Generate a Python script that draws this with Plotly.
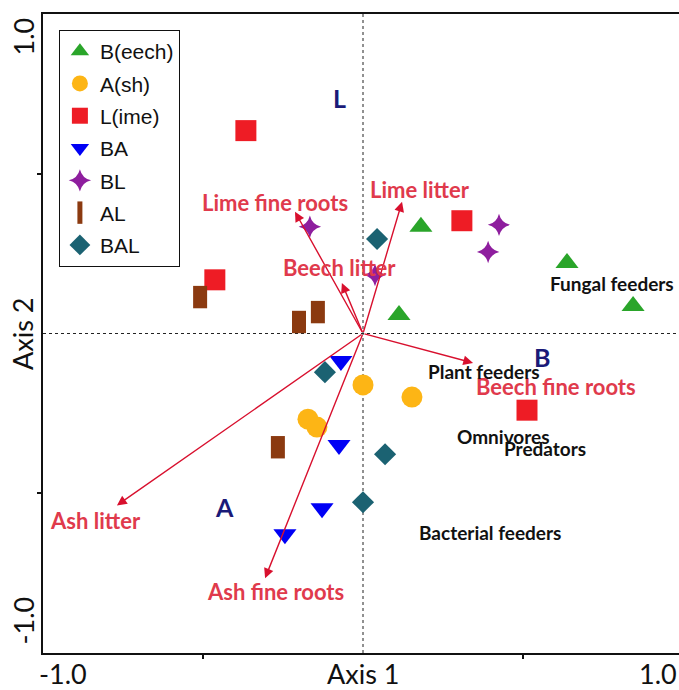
import plotly.graph_objects as go

# ---- data ----
groups = ["B(eech)", "A(sh)", "L(ime)", "BA", "BL", "AL", "BAL"]
beech_x = [0.181, 0.1125, 0.6375, 0.844]
beech_y = [0.334, 0.058, 0.221, 0.086]
ash_x = [0.0, 0.153, -0.172, -0.144]
ash_y = [-0.161, -0.199, -0.268, -0.293]
lime_x = [-0.366, 0.309, -0.463, 0.5125]
lime_y = [0.635, 0.353, 0.168, -0.240]
ba_x = [-0.069, -0.075, -0.128, -0.244]
ba_y = [-0.086, -0.349, -0.547, -0.628]
bl_x = [-0.166, 0.425, 0.391, 0.0375]
bl_y = [0.334, 0.340, 0.255, 0.183]
al_x = [-0.509, -0.200, -0.141, -0.266]
al_y = [0.114, 0.036, 0.067, -0.356]
bal_x = [0.044, -0.119, 0.0, 0.069]
bal_y = [0.296, -0.121, -0.528, -0.378]

# environmental arrows (tips)
env_names = ["Lime fine roots", "Lime litter", "Beech litter", "Beech fine roots", "Ash litter", "Ash fine roots"]
env_x = [-0.2125, 0.122, -0.066, 0.344, -0.769, -0.306]
env_y = [0.381, 0.412, 0.158, -0.092, -0.538, -0.766]
env_label_x = [-0.275, 0.178, -0.072, 0.603, -0.8375, -0.275]
env_label_y = [0.409, 0.450, 0.208, -0.165, -0.585, -0.807]

# feeding groups (supplementary labels)
feed_names = ["Plant feeders", "Omnivores", "Predators", "Bacterial feeders", "Fungal feeders"]
feed_x = [0.378, 0.4375, 0.569, 0.397, 0.778]
feed_y = [-0.118, -0.321, -0.359, -0.622, 0.155]

# centroid letters
cent_names = ["L", "B", "A"]
cent_x = [-0.072, 0.559, -0.434]
cent_y = [0.738, -0.074, -0.544]

x_range = [-1.0, 0.9875]
y_range = [-1.0, 1.0]

RED = "#e03a4c"
ARROW = "#d8102e"
NAVY = "#1a1a78"
LBL_FONT = "Lato"

fig = go.Figure()

series = [
    (groups[0], beech_x, beech_y, dict(symbol="triangle-up", size=20, color="#2aa52a")),
    (groups[1], ash_x, ash_y, dict(symbol="circle", size=21, color="#fdb515")),
    (groups[2], lime_x, lime_y, dict(symbol="square", size=21, color="#ee1c25")),
    (groups[3], ba_x, ba_y, dict(symbol="triangle-down", size=20, color="#0000f5")),
    (groups[4], bl_x, bl_y, dict(symbol="star-diamond", size=16, color="#8e1e9e")),
    (groups[5], al_x, al_y, dict(symbol="line-ns", size=16, color="#8b3a10",
                                 line=dict(width=14, color="#8b3a10"))),
    (groups[6], bal_x, bal_y, dict(symbol="diamond", size=17, color="#1b6272")),
]
for i, (name, xs, ys, mk) in enumerate(series):
    mk = dict(mk)
    if "line" not in mk:
        mk["line"] = dict(width=0)
    fig.add_trace(go.Scatter(x=xs, y=ys, mode="markers", name=name, marker=mk,
                             legendgroup=name))

annotations = []
# arrows from origin
for nx, ny in zip(env_x, env_y):
    annotations.append(dict(x=nx, y=ny, ax=0, ay=0, xref="x", yref="y", axref="x", ayref="y",
                            text="", showarrow=True, arrowhead=2, arrowsize=1.4,
                            arrowwidth=1.4, arrowcolor=ARROW, standoff=0))
for t, lx, ly in zip(env_names, env_label_x, env_label_y):
    annotations.append(dict(x=lx, y=ly, xref="x", yref="y", text="<b>%s</b>" % t, showarrow=False,
                            font=dict(family=LBL_FONT, size=22, color=RED)))
for t, lx, ly in zip(feed_names, feed_x, feed_y):
    annotations.append(dict(x=lx, y=ly, xref="x", yref="y", text="<b>%s</b>" % t, showarrow=False,
                            font=dict(family=LBL_FONT, size=19, color="#111111")))
for t, lx, ly in zip(cent_names, cent_x, cent_y):
    annotations.append(dict(x=lx, y=ly, xref="x", yref="y", text="<b>%s</b>" % t, showarrow=False,
                            font=dict(family=LBL_FONT, size=25, color=NAVY)))

# axis end labels and titles (CANOCO style)
AX_FONT = dict(family=LBL_FONT, size=27, color="#111111")
annotations += [
    dict(x=-1.0, y=0, xref="x", yref="paper", text="-1.0", showarrow=False, xanchor="left",
         yanchor="top", xshift=-6, yshift=-2, font=AX_FONT),
    dict(x=0, y=0, xref="x", yref="paper", text="Axis 1", showarrow=False, xanchor="center",
         yanchor="top", yshift=-2, font=AX_FONT),
    dict(x=1, y=0, xref="paper", yref="paper", text="1.0", showarrow=False, xanchor="right",
         yanchor="top", yshift=-2, font=AX_FONT),
    dict(x=0, y=1.0, xref="paper", yref="y", text="1.0", showarrow=False, textangle=-90,
         xanchor="right", yanchor="top", xshift=-2, yshift=-2, font=AX_FONT),
    dict(x=0, y=0, xref="paper", yref="y", text="Axis 2", showarrow=False, textangle=-90,
         xanchor="right", yanchor="middle", xshift=-2, font=AX_FONT),
    dict(x=0, y=-1.0, xref="paper", yref="y", text="-1.0", showarrow=False, textangle=-90,
         xanchor="right", yanchor="bottom", xshift=-2, yshift=6, font=AX_FONT),
]

shapes = [
    dict(type="line", xref="x", yref="y", x0=0, x1=0, y0=y_range[0], y1=y_range[1],
         line=dict(color="#222222", width=1, dash="dot"), layer="below"),
    dict(type="line", xref="x", yref="y", x0=x_range[0], x1=x_range[1], y0=0, y1=0,
         line=dict(color="#222222", width=1, dash="dot"), layer="below"),
]

fig.update_layout(
    width=679, height=690,
    margin=dict(l=43, r=0, t=14, b=37),
    plot_bgcolor="white", paper_bgcolor="white",
    showlegend=True,
    legend=dict(x=0.025, y=0.975, xanchor="left", yanchor="top",
                bordercolor="#111111", borderwidth=1, bgcolor="white",
                font=dict(family="Liberation Sans", size=21, color="#111111"),
                tracegroupgap=2, itemsizing="trace"),
    annotations=annotations,
    shapes=shapes,
    xaxis=dict(range=x_range, showgrid=False, zeroline=False, showline=True, linecolor="#111111",
               linewidth=1.5, mirror=True, ticks="outside", ticklen=4, tickwidth=1.5,
               tickcolor="#111111", tickvals=[-0.5, 0.5], showticklabels=False),
    yaxis=dict(range=y_range, showgrid=False, zeroline=False, showline=True, linecolor="#111111",
               linewidth=1.5, mirror=False, ticks="outside", ticklen=4, tickwidth=1.5,
               tickcolor="#111111", tickvals=[-0.5, 0.5], showticklabels=False),
)

fig.write_html("out.html")
